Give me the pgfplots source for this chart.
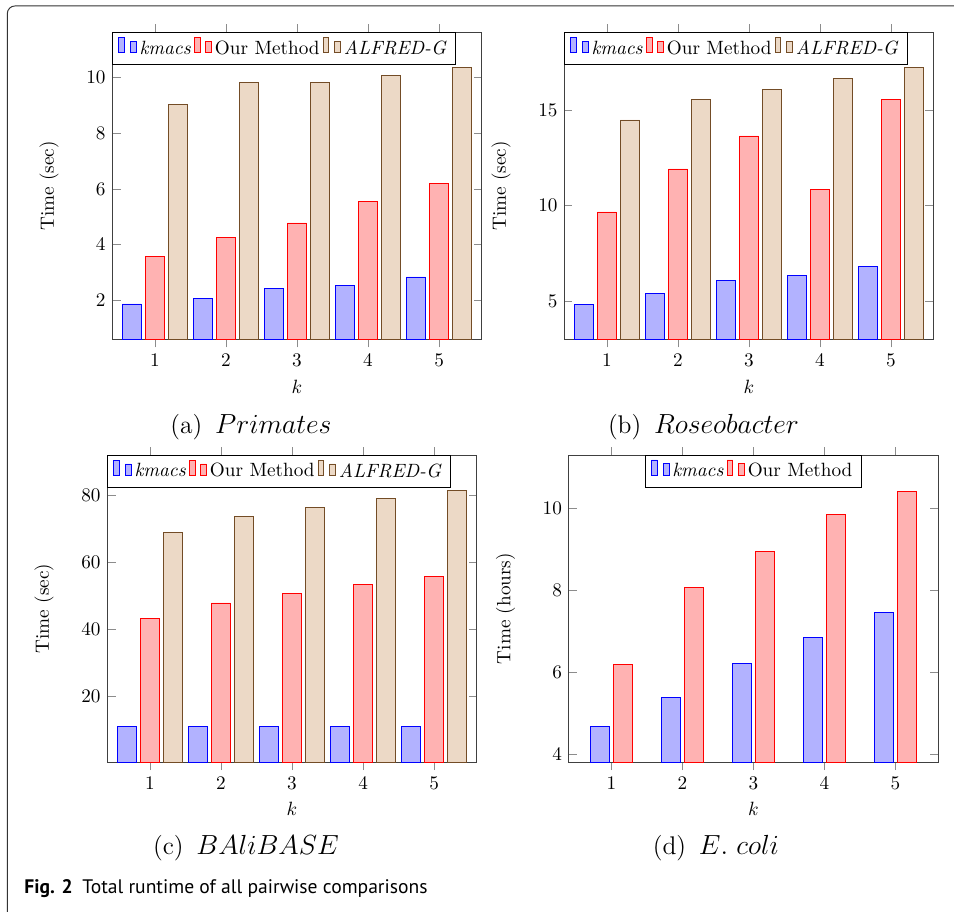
\documentclass[border=0pt]{standalone}
\usepackage{fontspec}
\usepackage{pgfplots}
\pgfplotsset{compat=1.18}
\newfontfamily\capfont{PT Sans}
\pgfplotsset{
  myax/.style={
    ybar, bar width=10pt, ybar=2pt,
    scale only axis, width=192.4pt, height=159.8pt,
    xmin=0.4, xmax=5.6, xtick={1,2,3,4,5},
    xtick align=outside,
    axis line style={black!75},
    tick style={black!45},
    xlabel={$k$},
    ylabel shift=7.5pt,
    legend columns=-1,
    legend style={at={(0,1)}, anchor=north west, font=\normalsize,
      nodes={inner xsep=1.6pt}, draw=black},
  }
}
\begin{document}
\begin{tikzpicture}
\useasboundingbox (0pt,0pt) rectangle (496.9pt,-475pt);
\begin{scope}
\clip (0pt,0pt) rectangle (496.9pt,-475pt);
\draw[rounded corners=4pt, line width=0.5pt, black!80] (3.8pt,-3.1pt) rectangle (560pt,-540pt);
\end{scope}

% (a) Primates
\begin{axis}[myax, at={(58.5pt,-176.7pt)}, anchor=south west,
  ymin=0.6, ymax=11.62, ytick={2,4,6,8,10}, ylabel={Time (sec)}]
\addplot coordinates {(1,1.87) (2,2.06) (3,2.43) (4,2.53) (5,2.84)};
\addplot coordinates {(1,3.59) (2,4.26) (3,4.78) (4,5.54) (5,6.19)};
\addplot coordinates {(1,9.03) (2,9.83) (3,9.81) (4,10.07) (5,10.35)};
\legend{\textit{kmacs}, Our Method, \textit{ALFRED-G}}
\end{axis}

% (b) Roseobacter
\begin{axis}[myax, at={(293.9pt,-176.7pt)}, anchor=south west,
  ymin=3.0, ymax=19.07, ytick={5,10,15}, ylabel={Time (sec)}]
\addplot coordinates {(1,4.84) (2,5.38) (3,6.08) (4,6.34) (5,6.81)};
\addplot coordinates {(1,9.67) (2,11.92) (3,13.65) (4,10.87) (5,15.54)};
\addplot coordinates {(1,14.49) (2,15.54) (3,16.08) (4,16.68) (5,17.22)};
\legend{\textit{kmacs}, Our Method, \textit{ALFRED-G}}
\end{axis}

% (c) BAliBASE
\begin{axis}[myax, at={(55.9pt,-396.9pt)}, anchor=south west,
  ymin=0.33, ymax=91.9, ytick={20,40,60,80}, ylabel={Time (sec)}]
\addplot coordinates {(1,11.06) (2,11.0) (3,10.96) (4,11.0) (5,11.0)};
\addplot coordinates {(1,43.3) (2,47.8) (3,50.7) (4,53.4) (5,55.8)};
\addplot coordinates {(1,68.9) (2,73.5) (3,76.2) (4,79.0) (5,81.3)};
\legend{\textit{kmacs}, Our Method, \textit{ALFRED-G}}
\end{axis}

% (d) E. coli
\begin{axis}[myax, at={(296.2pt,-396.9pt)}, anchor=south west,
  ymin=3.82, ymax=11.28, ytick={4,6,8,10}, ylabel={Time (hours)},
  legend style={at={(0.5,1)}, anchor=north}]
\addplot coordinates {(1,4.69) (2,5.39) (3,6.21) (4,6.86) (5,7.46)};
\addplot coordinates {(1,6.19) (2,8.06) (3,8.94) (4,9.85) (5,10.41)};
\legend{\textit{kmacs}, Our Method}
\end{axis}

\node[font=\fontsize{13.3}{15}\selectfont] at (130.7pt,-222.4pt) {(a)\enspace$Primates$};
\node[font=\fontsize{13.3}{15}\selectfont] at (366.4pt,-222.4pt) {(b)\enspace$Roseobacter$};
\node[font=\fontsize{13.3}{15}\selectfont] at (128.1pt,-441.8pt) {(c)\enspace$BAliBASE$};
\node[font=\fontsize{13.3}{15}\selectfont] at (372.9pt,-441.8pt) {(d)\enspace$E.~coli$};
\node[anchor=west, inner sep=0pt, font=\capfont\fontsize{10.2}{12}\selectfont] at (12.5pt,-462.6pt) {\textbf{Fig. 2}\enspace Total runtime of all pairwise comparisons};
\end{tikzpicture}
\end{document}
